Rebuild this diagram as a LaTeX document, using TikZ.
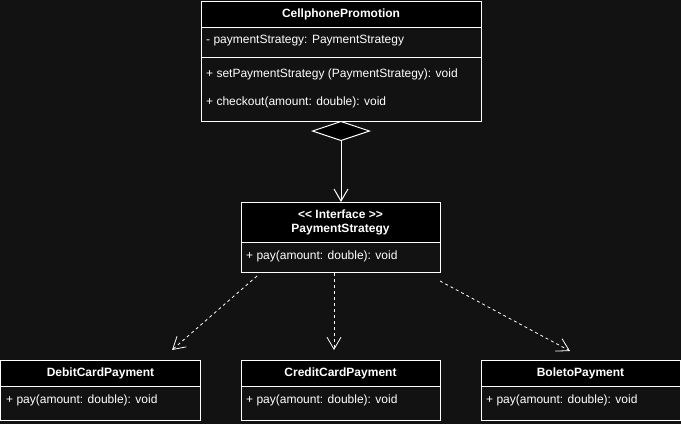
\documentclass[tikz,border=0pt]{standalone}
\usepackage{fontspec}
\setmainfont{Liberation Sans}
\usetikzlibrary{arrows.meta,calc}
\definecolor{bg}{RGB}{18,18,18}
\begin{document}
\begin{tikzpicture}[x=1pt,y=-1pt,
  font=\fontsize{12}{14}\selectfont,
  box/.style={draw=white, line width=1pt, anchor=north west, inner sep=0pt, outer sep=0pt},
  head/.style={box, fill=black, text=white, font=\bfseries\fontsize{12}{14}\selectfont},
  sec/.style={box, fill=bg},
  member/.style={anchor=west, text=white, inner sep=0pt},
  tipv/.tip={Straight Barb[length=12pt,width=14pt]},
  dep/.style={draw=white, line width=0.8pt, dash pattern=on 3pt off 3pt, -tipv},
  comp/.style={draw=white, line width=1pt, {Diamond[fill=black,length=20pt,width=60pt]}-tipv},
]
\fill[bg] (0,0) rectangle (681,424);
\useasboundingbox (0,0) rectangle (681,424);

% CellphonePromotion
\node[head, minimum width=280, minimum height=26] (cph) at (201,1) {CellphonePromotion};
\node[sec, minimum width=280, minimum height=30] (cpa) at (201,27) {};
\node[sec, minimum width=280, minimum height=64] (cpm) at (201,57) {};
\node[member] (cpa1) at (206,41) {- paymentStrategy: PaymentStrategy};
\node[member] (cpm1) at (206,74) {+ setPaymentStrategy (PaymentStrategy): void};
\node[member] (cpm2) at (206,102) {+ checkout(amount: double): void};

% PaymentStrategy interface
\node[head, minimum width=199, minimum height=40, align=center] (psh) at (241,202) {<{}< Interface >{}>\\PaymentStrategy};
\node[sec, minimum width=199, minimum height=30] (psb) at (241,242) {};
\node[member] (psb1) at (246,256) {+ pay(amount: double): void};

% DebitCardPayment
\node[head, minimum width=200, minimum height=26] (dch) at (0.5,360) {DebitCardPayment};
\node[sec, minimum width=200, minimum height=34] (dcb) at (0.5,386) {};
\node[member] (dcb1) at (6,400) {+ pay(amount: double): void};

% CreditCardPayment
\node[head, minimum width=199, minimum height=26] (cch) at (241,360) {CreditCardPayment};
\node[sec, minimum width=199, minimum height=34] (ccb) at (241,386) {};
\node[member] (ccb1) at (246,400) {+ pay(amount: double): void};

% BoletoPayment
\node[head, minimum width=199, minimum height=26] (bph) at (481,360) {BoletoPayment};
\node[sec, minimum width=199, minimum height=34] (bpb) at (481,386) {};
\node[member] (bpb1) at (486,400) {+ pay(amount: double): void};

% composition
\draw[comp] (cpm.south) -- (cpm.south |- psh.north);

% realizations
\coordinate (d1s) at (257,276);
\coordinate (d1e) at (172,350);
\coordinate (d2s) at (334,273);
\coordinate (d2e) at (334,350);
\coordinate (d3s) at (440,281);
\coordinate (d3e) at (570,351);
\draw[dep] (d1s) -- (d1e);
\draw[dep] (d2s) -- (d2e);
\draw[dep] (d3s) -- (d3e);
\end{tikzpicture}
\end{document}
